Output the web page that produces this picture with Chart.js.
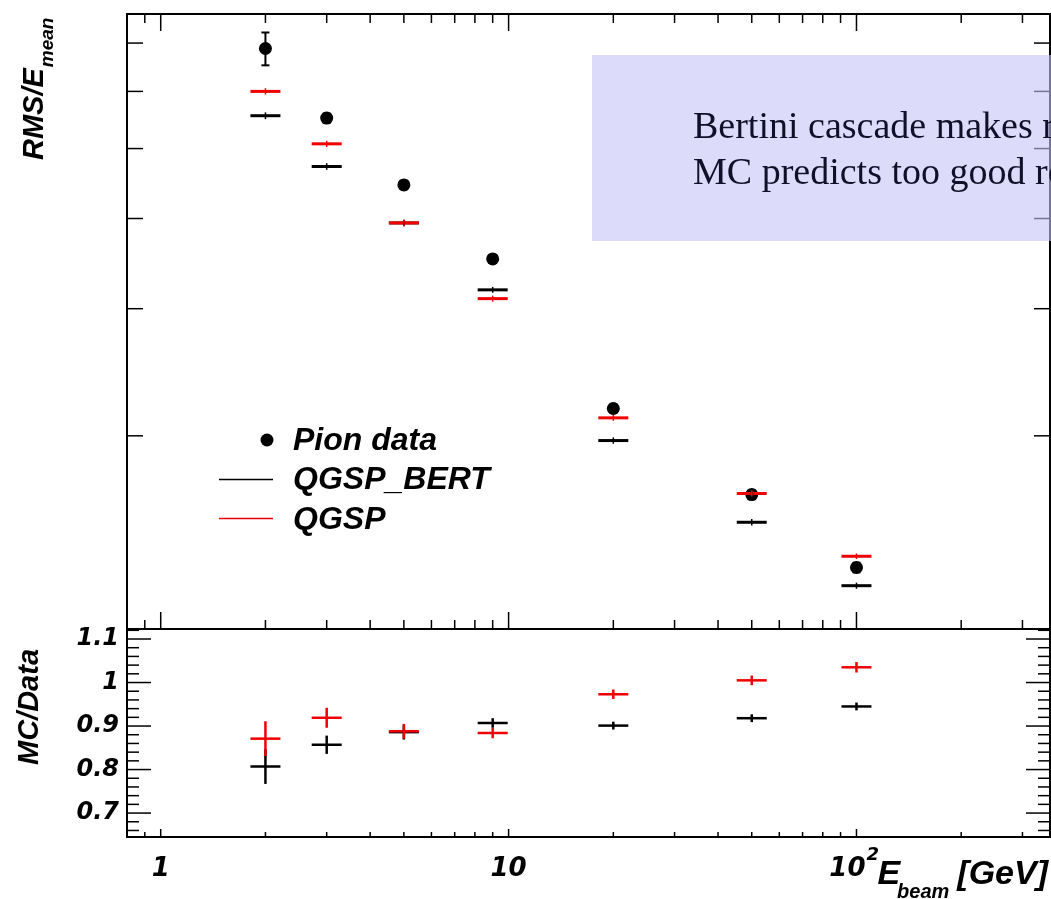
<!DOCTYPE html>
<html>
<head>
<meta charset="utf-8">
<script src="https://cdn.jsdelivr.net/npm/chart.js@4.4.0/dist/chart.umd.min.js"></script>
<style>
  html, body { margin: 0; padding: 0; background: #fff; }
  #wrap { position: relative; width: 1051px; height: 899px; overflow: hidden; }
  canvas { position: absolute; left: 0; top: 0; }
  #note {
    position: absolute; left: 592px; top: 55px; width: 459px; height: 186px;
    background: rgba(196, 196, 246, 0.6); overflow: hidden; z-index: 5;
    font-family: 'Liberation Serif', serif; font-size: 38px; color: #101028;
  }
  #note div { position: absolute; left: 101px; line-height: 38px; white-space: nowrap; }
</style>
</head>
<body>
<div id="wrap">
  <canvas id="res-chart" width="1051" height="899"></canvas>
  <canvas id="ratio-chart" width="1051" height="899"></canvas>
  <div id="note">
    <div style="top:51px">Bertini cascade makes resolution worse</div>
    <div style="top:97px">MC predicts too good resolution</div>
  </div>
</div>
<script>
// beam energies in GeV
const energies = [2, 3, 5, 9, 20, 50, 100];

// RMS/E_mean
const pionRes = [0.344, 0.2755, 0.2226, 0.1758, 0.1091, 0.0829, 0.0657];
const pionErr = [0.018, 0.004, 0.003, 0.002, 0.0015, 0.0012, 0.001];
const bertRes = [0.2776, 0.2361, 0.1972, 0.1593, 0.0985, 0.0759, 0.0620];
const bertErr = [0.003, 0.0025, 0.002, 0.0015, 0.001, 0.0008, 0.0006];
const qgspRes = [0.300, 0.2538, 0.1972, 0.1549, 0.1059, 0.0832, 0.0681];
const qgspErr = [0.003, 0.0025, 0.002, 0.0015, 0.001, 0.0008, 0.0006];

// MC/Data
const bertRatio = [0.807, 0.857, 0.886, 0.907, 0.901, 0.918, 0.945];
const bertRatioErr = [0.04, 0.021, 0.017, 0.011, 0.009, 0.009, 0.009];
const qgspRatio = [0.871, 0.919, 0.888, 0.884, 0.973, 1.005, 1.035];
const qgspRatioErr = [0.04, 0.023, 0.017, 0.012, 0.011, 0.011, 0.012];

const legendLabels = ['Pion data', 'QGSP_BERT', 'QGSP'];
const resTicks = [0.1, 0.15, 0.2, 0.25, 0.3, 0.35];
const ratioTicks = [0.7, 0.8, 0.9, 1, 1.1];
const energyTicks = [1, 10, 100];

const RED = 'rgb(240, 0, 0)';
const tickFont = { family: 'DejaVu Sans', style: 'italic', weight: 'bold' };

function points(ys) {
  return energies.map((e, i) => ({ x: e, y: ys[i] }));
}

// 1..9 x 10^n between min and max, major at the decades
function logTicks(min, max) {
  const out = [];
  for (let n = -1; n <= 3; n++) {
    for (let k = 1; k <= 9; k++) {
      const v = k * Math.pow(10, n);
      if (v > min && v < max) out.push({ v: v, major: k === 1 });
    }
  }
  return out;
}

function line(ctx, x1, y1, x2, y2) {
  ctx.beginPath();
  ctx.moveTo(x1, y1);
  ctx.lineTo(x2, y2);
  ctx.stroke();
}

// vertical error bars from each dataset's err list
const errorBars = {
  id: 'errorBars',
  afterDatasetsDraw(chart) {
    const ctx = chart.ctx;
    const xs = chart.scales.x, ys = chart.scales.y;
    chart.data.datasets.forEach(ds => {
      if (!ds.err) return;
      ctx.save();
      ctx.strokeStyle = ds.errColor || ds.borderColor;
      ctx.lineWidth = ds.errWidth || 2;
      ds.data.forEach((p, i) => {
        const px = xs.getPixelForValue(p.x);
        const top = ys.getPixelForValue(p.y + ds.err[i]);
        const bot = ys.getPixelForValue(p.y - ds.err[i]);
        line(ctx, px, top, px, bot);
        if (ds.errCap) {
          line(ctx, px - ds.errCap, top, px + ds.errCap, top);
          line(ctx, px - ds.errCap, bot, px + ds.errCap, bot);
        }
      });
      ctx.restore();
    });
  }
};

// frame, inward ticks, legend and y title of the upper pad
const resFrame = {
  id: 'resFrame',
  afterDraw(chart) {
    const { ctx, chartArea: a, scales: { x, y } } = chart;
    const sets = chart.data.datasets;
    ctx.save();
    ctx.strokeStyle = '#000';
    ctx.lineWidth = 1.5;
    logTicks(x.min, x.max).forEach(t => {
      const px = x.getPixelForValue(t.v);
      const len = t.major ? 17 : 9;
      line(ctx, px, a.top, px, a.top + len);
      line(ctx, px, a.bottom, px, a.bottom - len);
    });
    resTicks.forEach(v => {
      const py = y.getPixelForValue(v);
      line(ctx, a.left, py, a.left + 16, py);
      line(ctx, a.right, py, a.right - 16, py);
    });
    ctx.lineWidth = 2;
    ctx.strokeRect(a.left, a.top, a.right - a.left, a.bottom - a.top);

    // legend
    ctx.fillStyle = '#000';
    ctx.font = 'italic bold 32px "Liberation Sans"';
    ctx.textBaseline = 'alphabetic';
    ctx.beginPath();
    ctx.arc(267, 440, 6.5, 0, 2 * Math.PI);
    ctx.fill();
    ctx.fillText(legendLabels[0], 293, 450);
    ctx.lineWidth = 1.5;
    ctx.strokeStyle = sets[1].borderColor;
    line(ctx, 219, 479.5, 273, 479.5);
    ctx.fillText(legendLabels[1], 293, 489);
    ctx.strokeStyle = sets[2].borderColor;
    line(ctx, 219, 518.5, 273, 518.5);
    ctx.fillText(legendLabels[2], 293, 529);

    // RMS/E_mean
    ctx.translate(43, 160);
    ctx.rotate(-Math.PI / 2);
    ctx.font = 'italic bold 29px "Liberation Sans"';
    ctx.fillText('RMS/E', 0, 0);
    const w = ctx.measureText('RMS/E').width;
    ctx.font = 'italic bold 19px "Liberation Sans"';
    ctx.fillText('mean', w + 1, 10);
    ctx.restore();
  }
};

// frame, ticks and titles of the ratio pad
const ratioFrame = {
  id: 'ratioFrame',
  afterDraw(chart) {
    const { ctx, chartArea: a, scales: { x, y } } = chart;
    ctx.save();
    ctx.strokeStyle = '#000';
    ctx.lineWidth = 1.5;
    logTicks(x.min, x.max).forEach(t => {
      const px = x.getPixelForValue(t.v);
      line(ctx, px, a.bottom, px, a.bottom - (t.major ? 8 : 5));
    });
    for (let i = 32; i <= 57; i++) {
      const v = i * 0.02;
      if (v < y.min || v > y.max) continue;
      const py = y.getPixelForValue(v);
      const len = i % 5 === 0 ? 24 : 12;
      line(ctx, a.left, py, a.left + len, py);
      line(ctx, a.right, py, a.right - len, py);
    }
    ctx.lineWidth = 2;
    ctx.strokeRect(a.left, a.top, a.right - a.left, a.bottom - a.top);

    ctx.fillStyle = '#000';
    ctx.textBaseline = 'alphabetic';

    // exponent of the 10^2 label
    ctx.font = 'italic bold 26px "DejaVu Sans"';
    const px = x.getPixelForValue(100);
    const full = ctx.measureText('10  ').width;
    const w10 = ctx.measureText('10').width;
    ctx.font = 'italic bold 18px "DejaVu Sans"';
    ctx.fillText('2', px - full / 2 + w10 + 1, 860);

    // E_beam [GeV]
    ctx.textAlign = 'right';
    ctx.font = 'italic bold 34px "Liberation Sans"';
    ctx.fillText('[GeV]', 1048, 884);
    const xb = 1048 - ctx.measureText('[GeV]').width - 8;
    ctx.font = 'italic bold 20px "Liberation Sans"';
    ctx.fillText('beam', xb, 898);
    const xe = xb - ctx.measureText('beam').width + 3;
    ctx.font = 'italic bold 34px "Liberation Sans"';
    ctx.fillText('E', xe, 884);

    // MC/Data
    ctx.textAlign = 'center';
    ctx.translate(38, 707);
    ctx.rotate(-Math.PI / 2);
    ctx.font = 'italic bold 29px "Liberation Sans"';
    ctx.fillText('MC/Data', 0, 0);
    ctx.restore();
  }
};

new Chart(document.getElementById('res-chart'), {
  type: 'scatter',
  data: {
    datasets: [
      { label: legendLabels[0], data: points(pionRes), err: pionErr, errCap: 4, errColor: '#000',
        pointStyle: 'circle', pointRadius: 6.5, backgroundColor: '#000', borderColor: '#000', borderWidth: 0, order: 3 },
      { label: legendLabels[1], data: points(bertRes), err: bertErr, errWidth: 1.5,
        pointStyle: 'line', pointRadius: 15, borderColor: '#000', borderWidth: 3, order: 2 },
      { label: legendLabels[2], data: points(qgspRes), err: qgspErr, errWidth: 1.5,
        pointStyle: 'line', pointRadius: 15, borderColor: RED, borderWidth: 3, order: 1 }
    ]
  },
  options: {
    responsive: false,
    animation: false,
    events: [],
    layout: { autoPadding: false, padding: { top: 14, left: 127, right: 1, bottom: 270 } },
    plugins: { legend: { display: false }, tooltip: { enabled: false } },
    scales: {
      x: { type: 'logarithmic', min: 0.8, max: 360, display: false },
      y: { type: 'logarithmic', min: 0.054, max: 0.384, display: false }
    }
  },
  plugins: [errorBars, resFrame]
});

new Chart(document.getElementById('ratio-chart'), {
  type: 'scatter',
  data: {
    datasets: [
      { data: points(bertRatio), err: bertRatioErr, errWidth: 2.5,
        pointStyle: 'line', pointRadius: 15, borderColor: '#000', borderWidth: 2.5, order: 2 },
      { data: points(qgspRatio), err: qgspRatioErr, errWidth: 2.5,
        pointStyle: 'line', pointRadius: 15, borderColor: RED, borderWidth: 2.5, order: 1 }
    ]
  },
  options: {
    responsive: false,
    animation: false,
    events: [],
    layout: { autoPadding: false, padding: { top: 629, left: 0, right: 1, bottom: 0 } },
    plugins: { legend: { display: false }, tooltip: { enabled: false } },
    scales: {
      x: {
        type: 'logarithmic', min: 0.8, max: 360,
        grid: { display: false, drawTicks: false },
        border: { display: false },
        afterBuildTicks: s => { s.ticks = energyTicks.map(v => ({ value: v })); },
        afterFit: s => { s.height = 62; },
        ticks: {
          autoSkip: false, maxRotation: 0, padding: 17, color: '#000',
          font: Object.assign({ size: 26 }, tickFont),
          callback: v => v === 100 ? '10  ' : String(v)
        }
      },
      y: {
        min: 0.645, max: 1.123,
        grid: { display: false, drawTicks: false },
        border: { display: false },
        afterBuildTicks: s => { s.ticks = ratioTicks.map(v => ({ value: v })); },
        afterFit: s => { s.width = 127; },
        ticks: {
          padding: 8, color: '#000',
          font: Object.assign({ size: 24 }, tickFont),
          callback: v => String(v)
        }
      }
    }
  },
  plugins: [errorBars, ratioFrame]
});
</script>
</body>
</html>
